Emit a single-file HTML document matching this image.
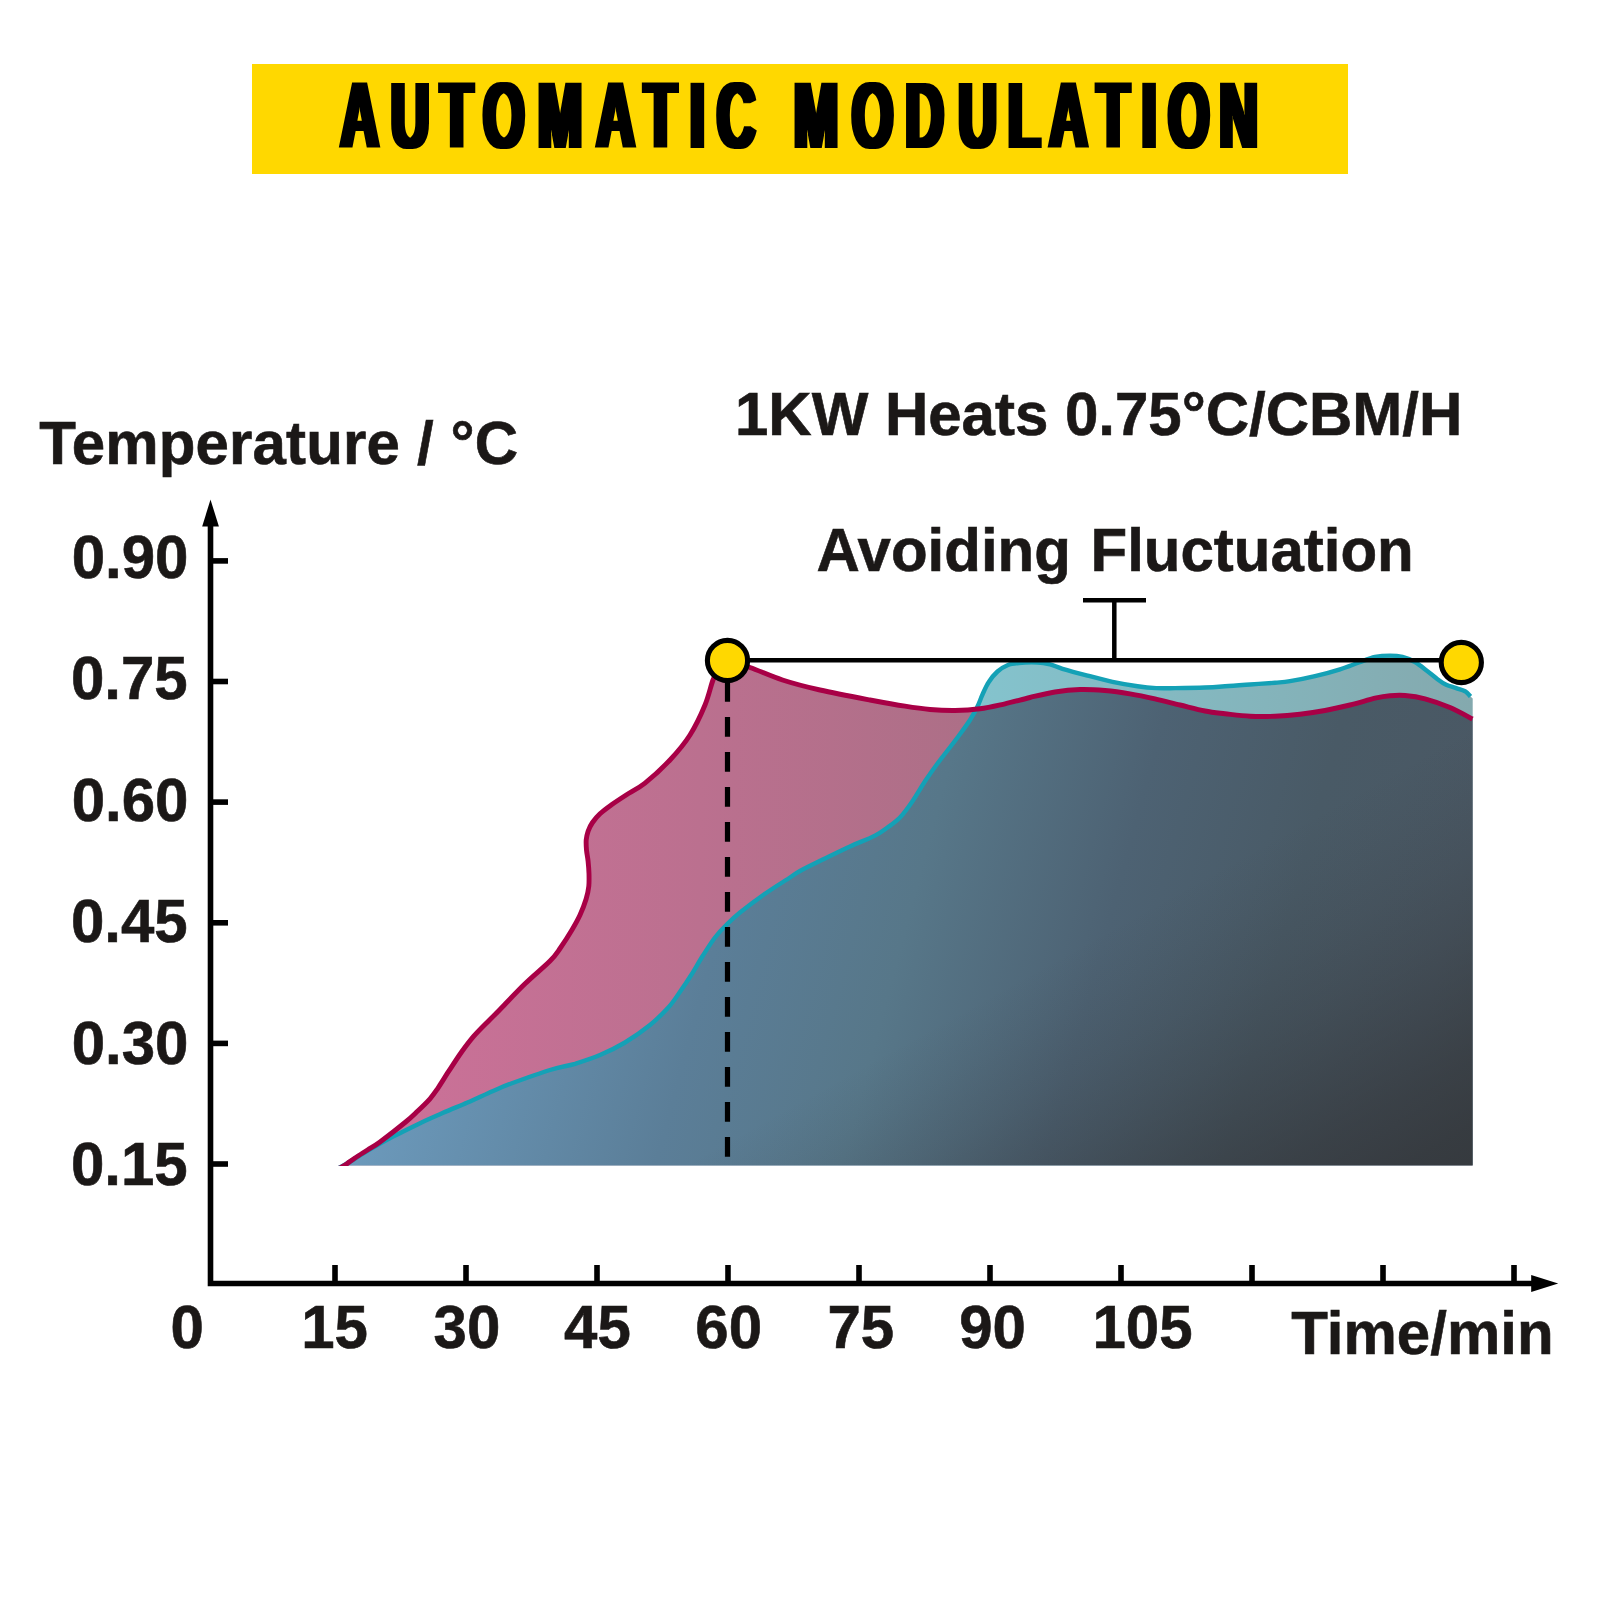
<!DOCTYPE html>
<html lang="en"><head><meta charset="utf-8"><title>Automatic Modulation</title>
<style>
html,body{margin:0;padding:0;background:#fff}
body{width:1600px;height:1600px;overflow:hidden}
svg{display:block}
text{font-family:"Liberation Sans",Arial,Helvetica,sans-serif;font-weight:700;fill:#1b1817}
.lbl{font-size:60px}
.lbl text{stroke:#1b1817;stroke-width:0.6px}
</style></head><body>
<svg width="1600" height="1600" viewBox="0 0 1600 1600">
<defs>
<linearGradient id="gPink" gradientUnits="userSpaceOnUse" x1="400" y1="0" x2="1000" y2="0">
<stop offset="0" stop-color="#cb7198"/><stop offset="1" stop-color="#ab6f86"/></linearGradient>
<linearGradient id="gTeal" gradientUnits="userSpaceOnUse" x1="980" y1="0" x2="1472" y2="0">
<stop offset="0" stop-color="#84c3cd"/><stop offset="1" stop-color="#84a9ae"/></linearGradient>
<linearGradient id="gDark" gradientUnits="userSpaceOnUse" x1="611.4" y1="163.8" x2="1671.1" y2="447.8"><stop offset="0.000" stop-color="#6c9abc"/><stop offset="0.275" stop-color="#5b7e98"/><stop offset="0.439" stop-color="#577789"/><stop offset="0.617" stop-color="#4d6273"/><stop offset="0.774" stop-color="#495a66"/><stop offset="0.918" stop-color="#4a5864"/><stop offset="1.000" stop-color="#49565f"/></linearGradient>
<linearGradient id="gShade" gradientUnits="userSpaceOnUse" x1="654.5" y1="1180.7" x2="853.3" y2="1539.3"><stop offset="0.000" stop-color="#33363a" stop-opacity="0"/><stop offset="0.122" stop-color="#33363a" stop-opacity="0.07"/><stop offset="0.268" stop-color="#33363a" stop-opacity="0.18"/><stop offset="0.415" stop-color="#33363a" stop-opacity="0.33"/><stop offset="0.561" stop-color="#33363a" stop-opacity="0.51"/><stop offset="0.707" stop-color="#33363a" stop-opacity="0.69"/><stop offset="0.854" stop-color="#33363a" stop-opacity="0.83"/><stop offset="1.000" stop-color="#33363a" stop-opacity="0.9"/></linearGradient>
<clipPath id="cBase"><rect x="300" y="600" width="1200" height="566"/></clipPath>
<clipPath id="cRed"><path d="M340.0 1168.0 C341.2 1167.3 344.5 1165.4 347.0 1163.7 C349.5 1162.0 351.6 1160.3 355.0 1158.0 C358.4 1155.7 363.3 1152.7 367.5 1150.0 C371.7 1147.3 373.8 1146.6 380.0 1142.0 C386.2 1137.4 398.8 1127.6 405.0 1122.5 C411.2 1117.4 413.3 1115.2 417.5 1111.2 C421.7 1107.3 426.7 1102.5 430.0 1098.8 C433.3 1095.0 434.4 1093.3 437.5 1088.8 C440.6 1084.2 444.8 1077.3 448.8 1071.2 C452.7 1065.2 457.1 1058.3 461.2 1052.5 C465.4 1046.7 469.0 1041.8 473.8 1036.2 C478.5 1030.8 485.6 1024.0 490.0 1019.5 C494.4 1015.0 494.2 1015.5 500.0 1009.5 C505.8 1003.5 516.7 991.8 525.0 983.8 C533.3 975.7 544.2 966.9 550.0 961.0 C555.8 955.1 556.4 953.7 560.0 948.5 C563.6 943.3 568.6 935.6 571.9 930.0 C575.2 924.4 577.6 920.2 580.0 915.0 C582.4 909.8 584.8 903.5 586.2 898.8 C587.7 894.0 588.3 890.4 588.8 886.2 C589.2 882.1 589.1 877.9 589.0 873.8 C588.9 869.6 588.5 865.2 588.1 861.2 C587.7 857.3 586.8 853.5 586.5 850.0 C586.2 846.5 586.0 843.1 586.2 840.0 C586.5 836.9 587.1 834.2 588.1 831.2 C589.1 828.3 590.5 825.4 592.5 822.5 C594.5 819.6 596.9 816.7 600.0 813.8 C603.1 810.8 606.9 808.1 611.2 805.0 C615.6 801.9 620.6 798.6 626.2 795.0 C631.9 791.4 637.7 788.9 645.0 783.1 C652.3 777.3 662.5 768.0 670.0 760.0 C677.5 752.0 684.2 744.2 690.0 735.0 C695.8 725.8 701.2 714.2 705.0 705.0 C708.8 695.8 710.7 686.0 713.0 680.0 C715.3 674.0 716.6 672.2 719.0 669.0 C721.4 665.8 726.1 662.3 727.5 661.0 C731.2 662.1 740.8 664.3 750.0 667.5 C759.2 670.7 770.8 676.2 782.5 680.0 C794.2 683.8 805.4 686.7 820.0 690.0 C834.6 693.3 855.8 697.3 870.0 700.0 C884.2 702.7 895.0 704.7 905.0 706.2 C915.0 707.8 921.7 708.8 930.0 709.5 C938.3 710.2 946.7 710.6 955.0 710.5 C963.3 710.4 971.7 709.9 980.0 708.8 C988.3 707.6 996.7 705.6 1005.0 703.8 C1013.3 701.9 1021.7 699.5 1030.0 697.5 C1038.3 695.5 1046.7 693.3 1055.0 692.0 C1063.3 690.7 1071.7 689.8 1080.0 689.5 C1088.3 689.2 1096.7 689.8 1105.0 690.5 C1113.3 691.2 1121.7 692.4 1130.0 693.8 C1138.3 695.1 1146.7 696.9 1155.0 698.8 C1163.3 700.6 1171.7 703.0 1180.0 705.0 C1188.3 707.0 1197.5 709.5 1205.0 711.0 C1212.5 712.5 1217.5 712.9 1225.0 713.8 C1232.5 714.6 1241.7 715.8 1250.0 716.2 C1258.3 716.7 1266.7 716.6 1275.0 716.2 C1283.3 715.9 1291.7 715.2 1300.0 714.2 C1308.3 713.3 1316.7 712.0 1325.0 710.5 C1333.3 709.0 1341.7 707.0 1350.0 705.0 C1358.3 703.0 1368.3 699.8 1375.0 698.2 C1381.7 696.7 1385.0 696.2 1390.0 695.8 C1395.0 695.3 1399.2 695.0 1405.0 695.5 C1410.8 696.0 1417.5 696.8 1425.0 698.8 C1432.5 700.8 1442.1 704.1 1450.0 707.5 C1457.9 710.9 1468.8 717.1 1472.5 719.0 L1472.7 719 L1472.7 1165.5 L338 1165.5 Z"/></clipPath>
<filter id="heavy" filterUnits="userSpaceOnUse" x="300" y="60" width="1000" height="120"><feMorphology operator="dilate" radius="3 0"/></filter>
</defs>
<rect width="1600" height="1600" fill="#fff"/>
<rect x="252" y="64" width="1096" height="110" fill="#ffd800"/>
<g filter="url(#heavy)"><g transform="scale(0.56 1)" font-size="94.5">
<text x="607.9 698.1 786.8 862.9 960.6 1065.1 1150.6 1232.1 1280.4 1375.0 1417.8 1521.3 1616.9 1711.5 1799.8 1873.8 1959.1 2038.7 2086.1 2177.5" y="148" style="fill:#000">AUTOMATIC MODULATION</text>
</g></g>
<g clip-path="url(#cBase)">
<path d="M340.0 1168.0 C341.2 1167.3 344.5 1165.4 347.0 1163.7 C349.5 1162.0 351.6 1160.3 355.0 1158.0 C358.4 1155.7 363.3 1152.7 367.5 1150.0 C371.7 1147.3 373.8 1146.6 380.0 1142.0 C386.2 1137.4 398.8 1127.6 405.0 1122.5 C411.2 1117.4 413.3 1115.2 417.5 1111.2 C421.7 1107.3 426.7 1102.5 430.0 1098.8 C433.3 1095.0 434.4 1093.3 437.5 1088.8 C440.6 1084.2 444.8 1077.3 448.8 1071.2 C452.7 1065.2 457.1 1058.3 461.2 1052.5 C465.4 1046.7 469.0 1041.8 473.8 1036.2 C478.5 1030.8 485.6 1024.0 490.0 1019.5 C494.4 1015.0 494.2 1015.5 500.0 1009.5 C505.8 1003.5 516.7 991.8 525.0 983.8 C533.3 975.7 544.2 966.9 550.0 961.0 C555.8 955.1 556.4 953.7 560.0 948.5 C563.6 943.3 568.6 935.6 571.9 930.0 C575.2 924.4 577.6 920.2 580.0 915.0 C582.4 909.8 584.8 903.5 586.2 898.8 C587.7 894.0 588.3 890.4 588.8 886.2 C589.2 882.1 589.1 877.9 589.0 873.8 C588.9 869.6 588.5 865.2 588.1 861.2 C587.7 857.3 586.8 853.5 586.5 850.0 C586.2 846.5 586.0 843.1 586.2 840.0 C586.5 836.9 587.1 834.2 588.1 831.2 C589.1 828.3 590.5 825.4 592.5 822.5 C594.5 819.6 596.9 816.7 600.0 813.8 C603.1 810.8 606.9 808.1 611.2 805.0 C615.6 801.9 620.6 798.6 626.2 795.0 C631.9 791.4 637.7 788.9 645.0 783.1 C652.3 777.3 662.5 768.0 670.0 760.0 C677.5 752.0 684.2 744.2 690.0 735.0 C695.8 725.8 701.2 714.2 705.0 705.0 C708.8 695.8 710.7 686.0 713.0 680.0 C715.3 674.0 716.6 672.2 719.0 669.0 C721.4 665.8 726.1 662.3 727.5 661.0 C731.2 662.1 740.8 664.3 750.0 667.5 C759.2 670.7 770.8 676.2 782.5 680.0 C794.2 683.8 805.4 686.7 820.0 690.0 C834.6 693.3 855.8 697.3 870.0 700.0 C884.2 702.7 895.0 704.7 905.0 706.2 C915.0 707.8 921.7 708.8 930.0 709.5 C938.3 710.2 946.7 710.6 955.0 710.5 C963.3 710.4 971.7 709.9 980.0 708.8 C988.3 707.6 996.7 705.6 1005.0 703.8 C1013.3 701.9 1021.7 699.5 1030.0 697.5 C1038.3 695.5 1046.7 693.3 1055.0 692.0 C1063.3 690.7 1071.7 689.8 1080.0 689.5 C1088.3 689.2 1096.7 689.8 1105.0 690.5 C1113.3 691.2 1121.7 692.4 1130.0 693.8 C1138.3 695.1 1146.7 696.9 1155.0 698.8 C1163.3 700.6 1171.7 703.0 1180.0 705.0 C1188.3 707.0 1197.5 709.5 1205.0 711.0 C1212.5 712.5 1217.5 712.9 1225.0 713.8 C1232.5 714.6 1241.7 715.8 1250.0 716.2 C1258.3 716.7 1266.7 716.6 1275.0 716.2 C1283.3 715.9 1291.7 715.2 1300.0 714.2 C1308.3 713.3 1316.7 712.0 1325.0 710.5 C1333.3 709.0 1341.7 707.0 1350.0 705.0 C1358.3 703.0 1368.3 699.8 1375.0 698.2 C1381.7 696.7 1385.0 696.2 1390.0 695.8 C1395.0 695.3 1399.2 695.0 1405.0 695.5 C1410.8 696.0 1417.5 696.8 1425.0 698.8 C1432.5 700.8 1442.1 704.1 1450.0 707.5 C1457.9 710.9 1468.8 717.1 1472.5 719.0 L1472.7 719 L1472.7 1165.5 L338 1165.5 Z" fill="url(#gPink)"/>
<path d="M338.0 1168.5 C339.2 1167.8 342.7 1165.9 345.0 1164.6 C347.3 1163.3 348.2 1162.8 352.0 1160.5 C355.8 1158.2 360.8 1154.7 367.5 1150.8 C374.2 1146.9 384.2 1141.3 392.5 1136.9 C400.8 1132.5 409.2 1128.4 417.5 1124.4 C425.8 1120.4 434.2 1116.8 442.5 1113.1 C450.8 1109.4 459.2 1106.1 467.5 1102.5 C475.8 1098.9 485.2 1094.4 492.5 1091.2 C499.8 1088.1 501.7 1087.0 511.2 1083.5 C520.8 1080.0 539.4 1073.3 550.0 1070.0 C560.6 1066.7 566.7 1066.2 575.0 1063.8 C583.3 1061.2 591.7 1058.5 600.0 1055.0 C608.3 1051.5 616.7 1047.5 625.0 1042.5 C633.3 1037.5 642.7 1030.9 650.0 1025.0 C657.3 1019.1 663.5 1012.8 668.8 1007.0 C674.0 1001.2 677.5 995.3 681.2 990.0 C685.0 984.7 687.7 980.6 691.2 975.0 C694.8 969.4 698.5 962.5 702.5 956.2 C706.5 950.0 710.8 942.9 715.0 937.5 C719.2 932.1 723.3 927.9 727.5 923.8 C731.7 919.6 733.8 917.5 740.0 912.5 C746.2 907.5 756.7 899.6 765.0 893.8 C773.3 887.9 784.2 881.3 790.0 877.5 C795.8 873.7 794.2 874.2 800.0 871.0 C805.8 867.8 816.7 862.6 825.0 858.5 C833.3 854.4 841.7 850.3 850.0 846.5 C858.3 842.7 868.8 838.8 875.0 835.6 C881.2 832.4 883.3 830.5 887.5 827.5 C891.7 824.5 895.8 821.9 900.0 817.5 C904.2 813.1 908.3 807.3 912.5 801.2 C916.7 795.2 920.8 787.5 925.0 781.2 C929.2 775.0 932.1 770.8 937.5 763.5 C942.9 756.2 952.1 744.8 957.5 737.5 C962.9 730.2 966.7 725.2 970.0 720.0 C973.3 714.8 975.4 710.8 977.5 706.5 C979.6 702.2 980.6 698.6 982.5 694.5 C984.4 690.4 986.2 685.8 988.8 682.0 C991.2 678.2 994.4 674.3 997.5 671.5 C1000.6 668.7 1004.0 666.6 1007.5 665.2 C1011.0 663.8 1013.8 663.5 1018.8 663.0 C1023.8 662.5 1032.3 662.3 1037.5 662.5 C1042.7 662.7 1045.8 663.4 1050.0 664.4 C1054.2 665.4 1056.2 666.9 1062.5 668.8 C1068.8 670.6 1079.2 673.4 1087.5 675.6 C1095.8 677.8 1104.2 680.1 1112.5 681.9 C1120.8 683.7 1130.2 685.2 1137.5 686.2 C1144.8 687.3 1150.0 687.8 1156.2 688.1 C1162.5 688.4 1166.9 688.2 1175.0 688.1 C1183.1 688.0 1196.7 687.8 1205.0 687.5 C1213.3 687.2 1217.5 686.8 1225.0 686.2 C1232.5 685.8 1241.7 685.1 1250.0 684.5 C1258.3 683.9 1268.3 683.3 1275.0 682.8 C1281.7 682.2 1283.3 682.3 1290.0 681.2 C1296.7 680.1 1306.7 678.2 1315.0 676.2 C1323.3 674.3 1332.7 671.7 1340.0 669.4 C1347.3 667.1 1352.9 664.6 1358.8 662.5 C1364.6 660.4 1369.8 658.1 1375.0 657.0 C1380.2 655.9 1385.4 655.6 1390.0 655.6 C1394.6 655.6 1398.3 655.9 1402.5 657.0 C1406.7 658.1 1410.8 659.6 1415.0 662.0 C1419.2 664.4 1423.8 668.4 1427.5 671.2 C1431.2 674.1 1434.4 676.9 1437.5 679.2 C1440.6 681.5 1443.1 683.3 1446.2 684.8 C1449.4 686.3 1453.1 687.0 1456.2 688.1 C1459.4 689.2 1462.6 689.9 1465.0 691.2 C1467.4 692.6 1469.6 695.6 1470.5 696.5 L1472.7 698.5 L1472.7 1165.5 L340 1165.5 Z" fill="url(#gTeal)"/>
<g clip-path="url(#cRed)"><path d="M338.0 1168.5 C339.2 1167.8 342.7 1165.9 345.0 1164.6 C347.3 1163.3 348.2 1162.8 352.0 1160.5 C355.8 1158.2 360.8 1154.7 367.5 1150.8 C374.2 1146.9 384.2 1141.3 392.5 1136.9 C400.8 1132.5 409.2 1128.4 417.5 1124.4 C425.8 1120.4 434.2 1116.8 442.5 1113.1 C450.8 1109.4 459.2 1106.1 467.5 1102.5 C475.8 1098.9 485.2 1094.4 492.5 1091.2 C499.8 1088.1 501.7 1087.0 511.2 1083.5 C520.8 1080.0 539.4 1073.3 550.0 1070.0 C560.6 1066.7 566.7 1066.2 575.0 1063.8 C583.3 1061.2 591.7 1058.5 600.0 1055.0 C608.3 1051.5 616.7 1047.5 625.0 1042.5 C633.3 1037.5 642.7 1030.9 650.0 1025.0 C657.3 1019.1 663.5 1012.8 668.8 1007.0 C674.0 1001.2 677.5 995.3 681.2 990.0 C685.0 984.7 687.7 980.6 691.2 975.0 C694.8 969.4 698.5 962.5 702.5 956.2 C706.5 950.0 710.8 942.9 715.0 937.5 C719.2 932.1 723.3 927.9 727.5 923.8 C731.7 919.6 733.8 917.5 740.0 912.5 C746.2 907.5 756.7 899.6 765.0 893.8 C773.3 887.9 784.2 881.3 790.0 877.5 C795.8 873.7 794.2 874.2 800.0 871.0 C805.8 867.8 816.7 862.6 825.0 858.5 C833.3 854.4 841.7 850.3 850.0 846.5 C858.3 842.7 868.8 838.8 875.0 835.6 C881.2 832.4 883.3 830.5 887.5 827.5 C891.7 824.5 895.8 821.9 900.0 817.5 C904.2 813.1 908.3 807.3 912.5 801.2 C916.7 795.2 920.8 787.5 925.0 781.2 C929.2 775.0 932.1 770.8 937.5 763.5 C942.9 756.2 952.1 744.8 957.5 737.5 C962.9 730.2 966.7 725.2 970.0 720.0 C973.3 714.8 975.4 710.8 977.5 706.5 C979.6 702.2 980.6 698.6 982.5 694.5 C984.4 690.4 986.2 685.8 988.8 682.0 C991.2 678.2 994.4 674.3 997.5 671.5 C1000.6 668.7 1004.0 666.6 1007.5 665.2 C1011.0 663.8 1013.8 663.5 1018.8 663.0 C1023.8 662.5 1032.3 662.3 1037.5 662.5 C1042.7 662.7 1045.8 663.4 1050.0 664.4 C1054.2 665.4 1056.2 666.9 1062.5 668.8 C1068.8 670.6 1079.2 673.4 1087.5 675.6 C1095.8 677.8 1104.2 680.1 1112.5 681.9 C1120.8 683.7 1130.2 685.2 1137.5 686.2 C1144.8 687.3 1150.0 687.8 1156.2 688.1 C1162.5 688.4 1166.9 688.2 1175.0 688.1 C1183.1 688.0 1196.7 687.8 1205.0 687.5 C1213.3 687.2 1217.5 686.8 1225.0 686.2 C1232.5 685.8 1241.7 685.1 1250.0 684.5 C1258.3 683.9 1268.3 683.3 1275.0 682.8 C1281.7 682.2 1283.3 682.3 1290.0 681.2 C1296.7 680.1 1306.7 678.2 1315.0 676.2 C1323.3 674.3 1332.7 671.7 1340.0 669.4 C1347.3 667.1 1352.9 664.6 1358.8 662.5 C1364.6 660.4 1369.8 658.1 1375.0 657.0 C1380.2 655.9 1385.4 655.6 1390.0 655.6 C1394.6 655.6 1398.3 655.9 1402.5 657.0 C1406.7 658.1 1410.8 659.6 1415.0 662.0 C1419.2 664.4 1423.8 668.4 1427.5 671.2 C1431.2 674.1 1434.4 676.9 1437.5 679.2 C1440.6 681.5 1443.1 683.3 1446.2 684.8 C1449.4 686.3 1453.1 687.0 1456.2 688.1 C1459.4 689.2 1462.6 689.9 1465.0 691.2 C1467.4 692.6 1469.6 695.6 1470.5 696.5 L1472.7 698.5 L1472.7 1165.5 L340 1165.5 Z" fill="url(#gDark)"/><path d="M338.0 1168.5 C339.2 1167.8 342.7 1165.9 345.0 1164.6 C347.3 1163.3 348.2 1162.8 352.0 1160.5 C355.8 1158.2 360.8 1154.7 367.5 1150.8 C374.2 1146.9 384.2 1141.3 392.5 1136.9 C400.8 1132.5 409.2 1128.4 417.5 1124.4 C425.8 1120.4 434.2 1116.8 442.5 1113.1 C450.8 1109.4 459.2 1106.1 467.5 1102.5 C475.8 1098.9 485.2 1094.4 492.5 1091.2 C499.8 1088.1 501.7 1087.0 511.2 1083.5 C520.8 1080.0 539.4 1073.3 550.0 1070.0 C560.6 1066.7 566.7 1066.2 575.0 1063.8 C583.3 1061.2 591.7 1058.5 600.0 1055.0 C608.3 1051.5 616.7 1047.5 625.0 1042.5 C633.3 1037.5 642.7 1030.9 650.0 1025.0 C657.3 1019.1 663.5 1012.8 668.8 1007.0 C674.0 1001.2 677.5 995.3 681.2 990.0 C685.0 984.7 687.7 980.6 691.2 975.0 C694.8 969.4 698.5 962.5 702.5 956.2 C706.5 950.0 710.8 942.9 715.0 937.5 C719.2 932.1 723.3 927.9 727.5 923.8 C731.7 919.6 733.8 917.5 740.0 912.5 C746.2 907.5 756.7 899.6 765.0 893.8 C773.3 887.9 784.2 881.3 790.0 877.5 C795.8 873.7 794.2 874.2 800.0 871.0 C805.8 867.8 816.7 862.6 825.0 858.5 C833.3 854.4 841.7 850.3 850.0 846.5 C858.3 842.7 868.8 838.8 875.0 835.6 C881.2 832.4 883.3 830.5 887.5 827.5 C891.7 824.5 895.8 821.9 900.0 817.5 C904.2 813.1 908.3 807.3 912.5 801.2 C916.7 795.2 920.8 787.5 925.0 781.2 C929.2 775.0 932.1 770.8 937.5 763.5 C942.9 756.2 952.1 744.8 957.5 737.5 C962.9 730.2 966.7 725.2 970.0 720.0 C973.3 714.8 975.4 710.8 977.5 706.5 C979.6 702.2 980.6 698.6 982.5 694.5 C984.4 690.4 986.2 685.8 988.8 682.0 C991.2 678.2 994.4 674.3 997.5 671.5 C1000.6 668.7 1004.0 666.6 1007.5 665.2 C1011.0 663.8 1013.8 663.5 1018.8 663.0 C1023.8 662.5 1032.3 662.3 1037.5 662.5 C1042.7 662.7 1045.8 663.4 1050.0 664.4 C1054.2 665.4 1056.2 666.9 1062.5 668.8 C1068.8 670.6 1079.2 673.4 1087.5 675.6 C1095.8 677.8 1104.2 680.1 1112.5 681.9 C1120.8 683.7 1130.2 685.2 1137.5 686.2 C1144.8 687.3 1150.0 687.8 1156.2 688.1 C1162.5 688.4 1166.9 688.2 1175.0 688.1 C1183.1 688.0 1196.7 687.8 1205.0 687.5 C1213.3 687.2 1217.5 686.8 1225.0 686.2 C1232.5 685.8 1241.7 685.1 1250.0 684.5 C1258.3 683.9 1268.3 683.3 1275.0 682.8 C1281.7 682.2 1283.3 682.3 1290.0 681.2 C1296.7 680.1 1306.7 678.2 1315.0 676.2 C1323.3 674.3 1332.7 671.7 1340.0 669.4 C1347.3 667.1 1352.9 664.6 1358.8 662.5 C1364.6 660.4 1369.8 658.1 1375.0 657.0 C1380.2 655.9 1385.4 655.6 1390.0 655.6 C1394.6 655.6 1398.3 655.9 1402.5 657.0 C1406.7 658.1 1410.8 659.6 1415.0 662.0 C1419.2 664.4 1423.8 668.4 1427.5 671.2 C1431.2 674.1 1434.4 676.9 1437.5 679.2 C1440.6 681.5 1443.1 683.3 1446.2 684.8 C1449.4 686.3 1453.1 687.0 1456.2 688.1 C1459.4 689.2 1462.6 689.9 1465.0 691.2 C1467.4 692.6 1469.6 695.6 1470.5 696.5 L1472.7 698.5 L1472.7 1165.5 L340 1165.5 Z" fill="url(#gShade)"/></g>
<path d="M338.0 1168.5 C339.2 1167.8 342.7 1165.9 345.0 1164.6 C347.3 1163.3 348.2 1162.8 352.0 1160.5 C355.8 1158.2 360.8 1154.7 367.5 1150.8 C374.2 1146.9 384.2 1141.3 392.5 1136.9 C400.8 1132.5 409.2 1128.4 417.5 1124.4 C425.8 1120.4 434.2 1116.8 442.5 1113.1 C450.8 1109.4 459.2 1106.1 467.5 1102.5 C475.8 1098.9 485.2 1094.4 492.5 1091.2 C499.8 1088.1 501.7 1087.0 511.2 1083.5 C520.8 1080.0 539.4 1073.3 550.0 1070.0 C560.6 1066.7 566.7 1066.2 575.0 1063.8 C583.3 1061.2 591.7 1058.5 600.0 1055.0 C608.3 1051.5 616.7 1047.5 625.0 1042.5 C633.3 1037.5 642.7 1030.9 650.0 1025.0 C657.3 1019.1 663.5 1012.8 668.8 1007.0 C674.0 1001.2 677.5 995.3 681.2 990.0 C685.0 984.7 687.7 980.6 691.2 975.0 C694.8 969.4 698.5 962.5 702.5 956.2 C706.5 950.0 710.8 942.9 715.0 937.5 C719.2 932.1 723.3 927.9 727.5 923.8 C731.7 919.6 733.8 917.5 740.0 912.5 C746.2 907.5 756.7 899.6 765.0 893.8 C773.3 887.9 784.2 881.3 790.0 877.5 C795.8 873.7 794.2 874.2 800.0 871.0 C805.8 867.8 816.7 862.6 825.0 858.5 C833.3 854.4 841.7 850.3 850.0 846.5 C858.3 842.7 868.8 838.8 875.0 835.6 C881.2 832.4 883.3 830.5 887.5 827.5 C891.7 824.5 895.8 821.9 900.0 817.5 C904.2 813.1 908.3 807.3 912.5 801.2 C916.7 795.2 920.8 787.5 925.0 781.2 C929.2 775.0 932.1 770.8 937.5 763.5 C942.9 756.2 952.1 744.8 957.5 737.5 C962.9 730.2 966.7 725.2 970.0 720.0 C973.3 714.8 975.4 710.8 977.5 706.5 C979.6 702.2 980.6 698.6 982.5 694.5 C984.4 690.4 986.2 685.8 988.8 682.0 C991.2 678.2 994.4 674.3 997.5 671.5 C1000.6 668.7 1004.0 666.6 1007.5 665.2 C1011.0 663.8 1013.8 663.5 1018.8 663.0 C1023.8 662.5 1032.3 662.3 1037.5 662.5 C1042.7 662.7 1045.8 663.4 1050.0 664.4 C1054.2 665.4 1056.2 666.9 1062.5 668.8 C1068.8 670.6 1079.2 673.4 1087.5 675.6 C1095.8 677.8 1104.2 680.1 1112.5 681.9 C1120.8 683.7 1130.2 685.2 1137.5 686.2 C1144.8 687.3 1150.0 687.8 1156.2 688.1 C1162.5 688.4 1166.9 688.2 1175.0 688.1 C1183.1 688.0 1196.7 687.8 1205.0 687.5 C1213.3 687.2 1217.5 686.8 1225.0 686.2 C1232.5 685.8 1241.7 685.1 1250.0 684.5 C1258.3 683.9 1268.3 683.3 1275.0 682.8 C1281.7 682.2 1283.3 682.3 1290.0 681.2 C1296.7 680.1 1306.7 678.2 1315.0 676.2 C1323.3 674.3 1332.7 671.7 1340.0 669.4 C1347.3 667.1 1352.9 664.6 1358.8 662.5 C1364.6 660.4 1369.8 658.1 1375.0 657.0 C1380.2 655.9 1385.4 655.6 1390.0 655.6 C1394.6 655.6 1398.3 655.9 1402.5 657.0 C1406.7 658.1 1410.8 659.6 1415.0 662.0 C1419.2 664.4 1423.8 668.4 1427.5 671.2 C1431.2 674.1 1434.4 676.9 1437.5 679.2 C1440.6 681.5 1443.1 683.3 1446.2 684.8 C1449.4 686.3 1453.1 687.0 1456.2 688.1 C1459.4 689.2 1462.6 689.9 1465.0 691.2 C1467.4 692.6 1469.6 695.6 1470.5 696.5" fill="none" stroke="#14a1b6" stroke-width="4.4" stroke-linejoin="round"/>
<path d="M340.0 1168.0 C341.2 1167.3 344.5 1165.4 347.0 1163.7 C349.5 1162.0 351.6 1160.3 355.0 1158.0 C358.4 1155.7 363.3 1152.7 367.5 1150.0 C371.7 1147.3 373.8 1146.6 380.0 1142.0 C386.2 1137.4 398.8 1127.6 405.0 1122.5 C411.2 1117.4 413.3 1115.2 417.5 1111.2 C421.7 1107.3 426.7 1102.5 430.0 1098.8 C433.3 1095.0 434.4 1093.3 437.5 1088.8 C440.6 1084.2 444.8 1077.3 448.8 1071.2 C452.7 1065.2 457.1 1058.3 461.2 1052.5 C465.4 1046.7 469.0 1041.8 473.8 1036.2 C478.5 1030.8 485.6 1024.0 490.0 1019.5 C494.4 1015.0 494.2 1015.5 500.0 1009.5 C505.8 1003.5 516.7 991.8 525.0 983.8 C533.3 975.7 544.2 966.9 550.0 961.0 C555.8 955.1 556.4 953.7 560.0 948.5 C563.6 943.3 568.6 935.6 571.9 930.0 C575.2 924.4 577.6 920.2 580.0 915.0 C582.4 909.8 584.8 903.5 586.2 898.8 C587.7 894.0 588.3 890.4 588.8 886.2 C589.2 882.1 589.1 877.9 589.0 873.8 C588.9 869.6 588.5 865.2 588.1 861.2 C587.7 857.3 586.8 853.5 586.5 850.0 C586.2 846.5 586.0 843.1 586.2 840.0 C586.5 836.9 587.1 834.2 588.1 831.2 C589.1 828.3 590.5 825.4 592.5 822.5 C594.5 819.6 596.9 816.7 600.0 813.8 C603.1 810.8 606.9 808.1 611.2 805.0 C615.6 801.9 620.6 798.6 626.2 795.0 C631.9 791.4 637.7 788.9 645.0 783.1 C652.3 777.3 662.5 768.0 670.0 760.0 C677.5 752.0 684.2 744.2 690.0 735.0 C695.8 725.8 701.2 714.2 705.0 705.0 C708.8 695.8 710.7 686.0 713.0 680.0 C715.3 674.0 716.6 672.2 719.0 669.0 C721.4 665.8 726.1 662.3 727.5 661.0 C731.2 662.1 740.8 664.3 750.0 667.5 C759.2 670.7 770.8 676.2 782.5 680.0 C794.2 683.8 805.4 686.7 820.0 690.0 C834.6 693.3 855.8 697.3 870.0 700.0 C884.2 702.7 895.0 704.7 905.0 706.2 C915.0 707.8 921.7 708.8 930.0 709.5 C938.3 710.2 946.7 710.6 955.0 710.5 C963.3 710.4 971.7 709.9 980.0 708.8 C988.3 707.6 996.7 705.6 1005.0 703.8 C1013.3 701.9 1021.7 699.5 1030.0 697.5 C1038.3 695.5 1046.7 693.3 1055.0 692.0 C1063.3 690.7 1071.7 689.8 1080.0 689.5 C1088.3 689.2 1096.7 689.8 1105.0 690.5 C1113.3 691.2 1121.7 692.4 1130.0 693.8 C1138.3 695.1 1146.7 696.9 1155.0 698.8 C1163.3 700.6 1171.7 703.0 1180.0 705.0 C1188.3 707.0 1197.5 709.5 1205.0 711.0 C1212.5 712.5 1217.5 712.9 1225.0 713.8 C1232.5 714.6 1241.7 715.8 1250.0 716.2 C1258.3 716.7 1266.7 716.6 1275.0 716.2 C1283.3 715.9 1291.7 715.2 1300.0 714.2 C1308.3 713.3 1316.7 712.0 1325.0 710.5 C1333.3 709.0 1341.7 707.0 1350.0 705.0 C1358.3 703.0 1368.3 699.8 1375.0 698.2 C1381.7 696.7 1385.0 696.2 1390.0 695.8 C1395.0 695.3 1399.2 695.0 1405.0 695.5 C1410.8 696.0 1417.5 696.8 1425.0 698.8 C1432.5 700.8 1442.1 704.1 1450.0 707.5 C1457.9 710.9 1468.8 717.1 1472.5 719.0" fill="none" stroke="#a80046" stroke-width="4.9" stroke-linejoin="round"/></g>
<line x1="727.5" y1="681.9" x2="727.5" y2="1157" stroke="#000" stroke-width="5.2" stroke-dasharray="19.9 15.1"/>
<g stroke="#000" stroke-width="4.5" fill="none">
<line x1="727" y1="660.3" x2="1461" y2="660.3"/>
<line x1="1114.3" y1="600" x2="1114.3" y2="660"/>
<line x1="1083" y1="600.3" x2="1146" y2="600.3"/>
</g>
<circle cx="727.5" cy="660.5" r="20.1" fill="#ffd800" stroke="#000" stroke-width="5.1"/>
<circle cx="1461.3" cy="662.5" r="20.1" fill="#ffd800" stroke="#000" stroke-width="5.1"/>
<g stroke="#000" stroke-width="5.6" fill="none" stroke-linecap="butt">
<path d="M210.5 524 L210.5 1283.5 L1535 1283.5"/>
<line x1="210.5" y1="560.90" x2="228" y2="560.90"/><line x1="210.5" y1="681.50" x2="228" y2="681.50"/><line x1="210.5" y1="802.10" x2="228" y2="802.10"/><line x1="210.5" y1="922.80" x2="228" y2="922.80"/><line x1="210.5" y1="1043.40" x2="228" y2="1043.40"/><line x1="210.5" y1="1164.00" x2="228" y2="1164.00"/><line x1="335.0" y1="1265" x2="335.0" y2="1283.5"/><line x1="466.0" y1="1265" x2="466.0" y2="1283.5"/><line x1="597.0" y1="1265" x2="597.0" y2="1283.5"/><line x1="728.0" y1="1265" x2="728.0" y2="1283.5"/><line x1="859.0" y1="1265" x2="859.0" y2="1283.5"/><line x1="990.0" y1="1265" x2="990.0" y2="1283.5"/><line x1="1121.0" y1="1265" x2="1121.0" y2="1283.5"/><line x1="1252.0" y1="1265" x2="1252.0" y2="1283.5"/><line x1="1383.0" y1="1265" x2="1383.0" y2="1283.5"/><line x1="1514.0" y1="1265" x2="1514.0" y2="1283.5"/>
</g>
<path d="M210.5 499.4 L218.9 526.6 L202.2 526.6 Z" fill="#000"/>
<path d="M1558.2 1283.5 L1531.2 1291.9 L1531.2 1275.1 Z" fill="#000"/>
<g class="lbl" transform="scale(1 1.03)">
<text x="188.46" y="560.87" text-anchor="end">0.90</text>
<text x="187.67" y="678.83" text-anchor="end">0.75</text>
<text x="188.46" y="796.89" text-anchor="end">0.60</text>
<text x="187.67" y="914.95" text-anchor="end">0.45</text>
<text x="188.46" y="1032.91" text-anchor="end">0.30</text>
<text x="187.67" y="1150.97" text-anchor="end">0.15</text>
<text x="170.63" y="1309.03">0</text>
<text x="301.22" y="1309.03">15</text>
<text x="433.62" y="1309.03">30</text>
<text x="564.09" y="1309.03">45</text>
<text x="695.30" y="1309.03">60</text>
<text x="827.42" y="1309.03">75</text>
<text x="959.17" y="1309.03">90</text>
<text x="1092.47" y="1309.03">105</text>
<text id="ltemp" letter-spacing="0.17" x="39.33" y="450.97">Temperature / °C</text>
<text id="lkw" x="734.97" y="422.82">1KW Heats 0.75°C/CBM/H</text>
<text id="lavoid" word-spacing="3" x="816.51" y="553.98">Avoiding Fluctuation</text>
<text id="ltime" x="1291.33" y="1315.05">Time/min</text>
</g>
</svg>
</body></html>
